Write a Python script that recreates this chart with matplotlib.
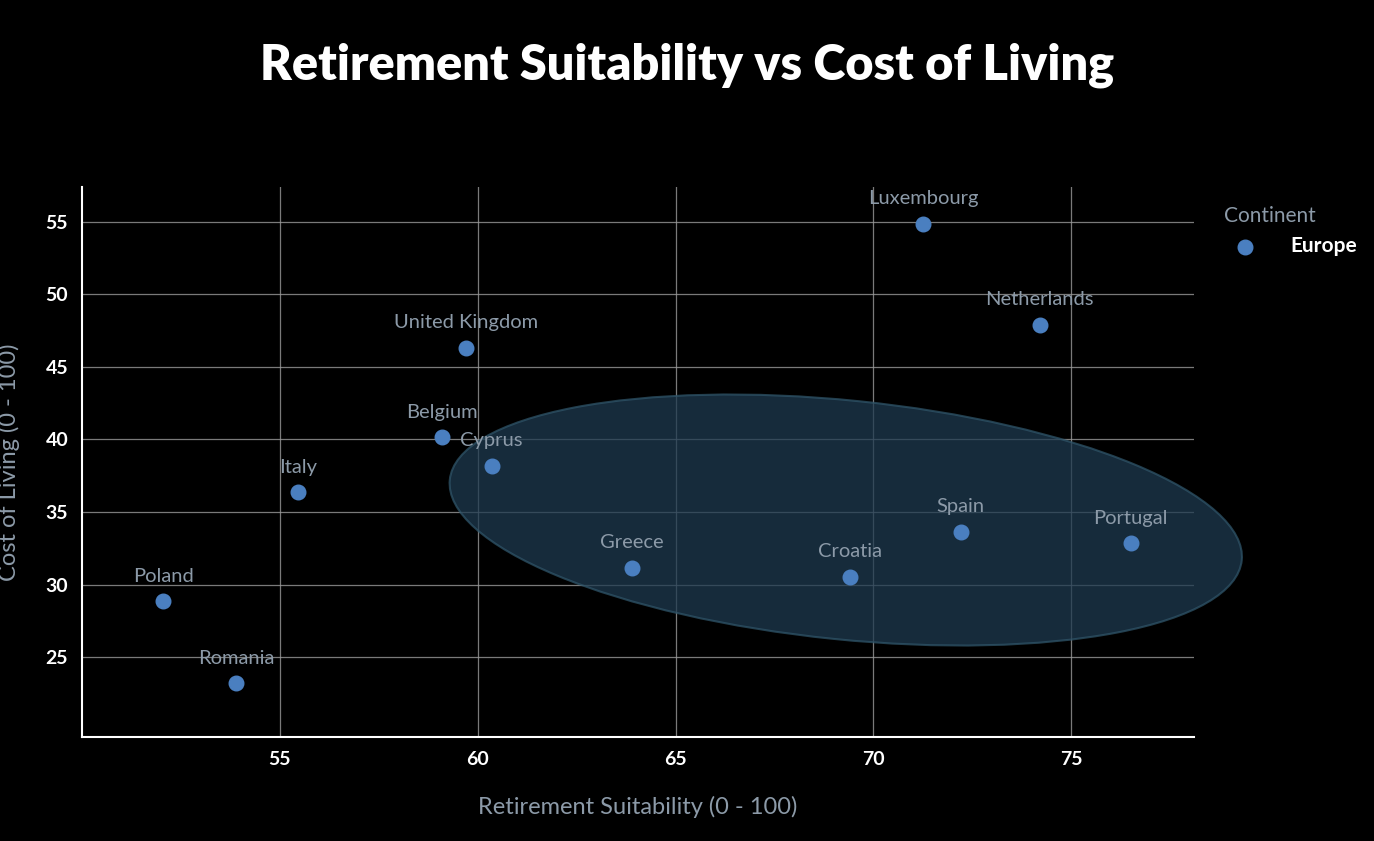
import matplotlib
matplotlib.use("Agg")
import matplotlib.pyplot as plt
from matplotlib.patches import Ellipse
from matplotlib.transforms import IdentityTransform

countries = ["Poland", "Romania", "Italy", "Belgium", "United Kingdom", "Cyprus",
             "Greece", "Croatia", "Spain", "Portugal", "Luxembourg", "Netherlands"]
suitability = [52.05, 53.9, 55.45, 59.1, 59.7, 60.35, 63.9, 69.4, 72.2, 76.5, 71.25, 74.2]
cost = [28.85, 23.2, 36.35, 40.15, 46.3, 38.2, 31.15, 30.55, 33.65, 32.85, 54.85, 47.9]

plt.rcParams['font.family'] = ['Lato', 'DejaVu Sans']
fig = plt.figure(figsize=(13.74, 8.41), dpi=100, facecolor='black')
ax = fig.add_axes([0.0597, 0.1237, 0.8093, 0.654])
ax.set_facecolor('black')

ax.set_xlim(50, 78.1)
ax.set_ylim(19.5, 57.4)
ax.set_xticks([55, 60, 65, 70, 75])
ax.set_yticks([25, 30, 35, 40, 45, 50, 55])
ax.grid(True, color='#9a9a9a', linewidth=0.9, alpha=0.8)
ax.set_axisbelow(True)
for s in ['top', 'right']:
    ax.spines[s].set_visible(False)
for s in ['left', 'bottom']:
    ax.spines[s].set_color('white')
    ax.spines[s].set_linewidth(1.5)
ax.tick_params(colors='white', labelsize=14, length=0, pad=10)
for lab in ax.get_xticklabels() + ax.get_yticklabels():
    lab.set_fontweight('bold')

ax.scatter(suitability, cost, s=110, color='#4a7fc0', zorder=3, label='Europe')
for name, x, y in zip(countries, suitability, cost):
    ax.annotate(name, (x, y), xytext=(0, 12), textcoords='offset points',
                ha='center', va='bottom', color='#8c9aa8', fontsize=14.5, zorder=4)

# highlight ellipse (drawn in pixel space so its tilt matches)
cx, cy = ax.transData.transform((69.3, 34.45))
ax.add_patch(Ellipse((cx, cy), 796, 239, angle=-5.8, transform=IdentityTransform(),
                     facecolor='#1e3a50', edgecolor='#2f5468', linewidth=1.5,
                     alpha=0.75, zorder=2, clip_on=False))

ax.set_xlabel('Retirement Suitability (0 - 100)', color='#8c9aa8', fontsize=17, labelpad=20)
ax.set_ylabel('Cost of Living (0 - 100)', color='#8c9aa8', fontsize=17, labelpad=18)
fig.suptitle('Retirement Suitability vs Cost of Living', color='white', fontsize=35,
             fontweight='heavy', y=0.95)

leg = ax.legend(title='Continent', loc='upper left', bbox_to_anchor=(1.01, 1.0),
                frameon=False, fontsize=15, title_fontsize=15, markerscale=1.0,
                handletextpad=1.2)
leg.get_title().set_color('#8c9aa8')
leg._legend_box.align = 'left'
for t in leg.get_texts():
    t.set_color('white')
    t.set_fontweight('bold')

fig.savefig('out.png', dpi=100, facecolor='black')
